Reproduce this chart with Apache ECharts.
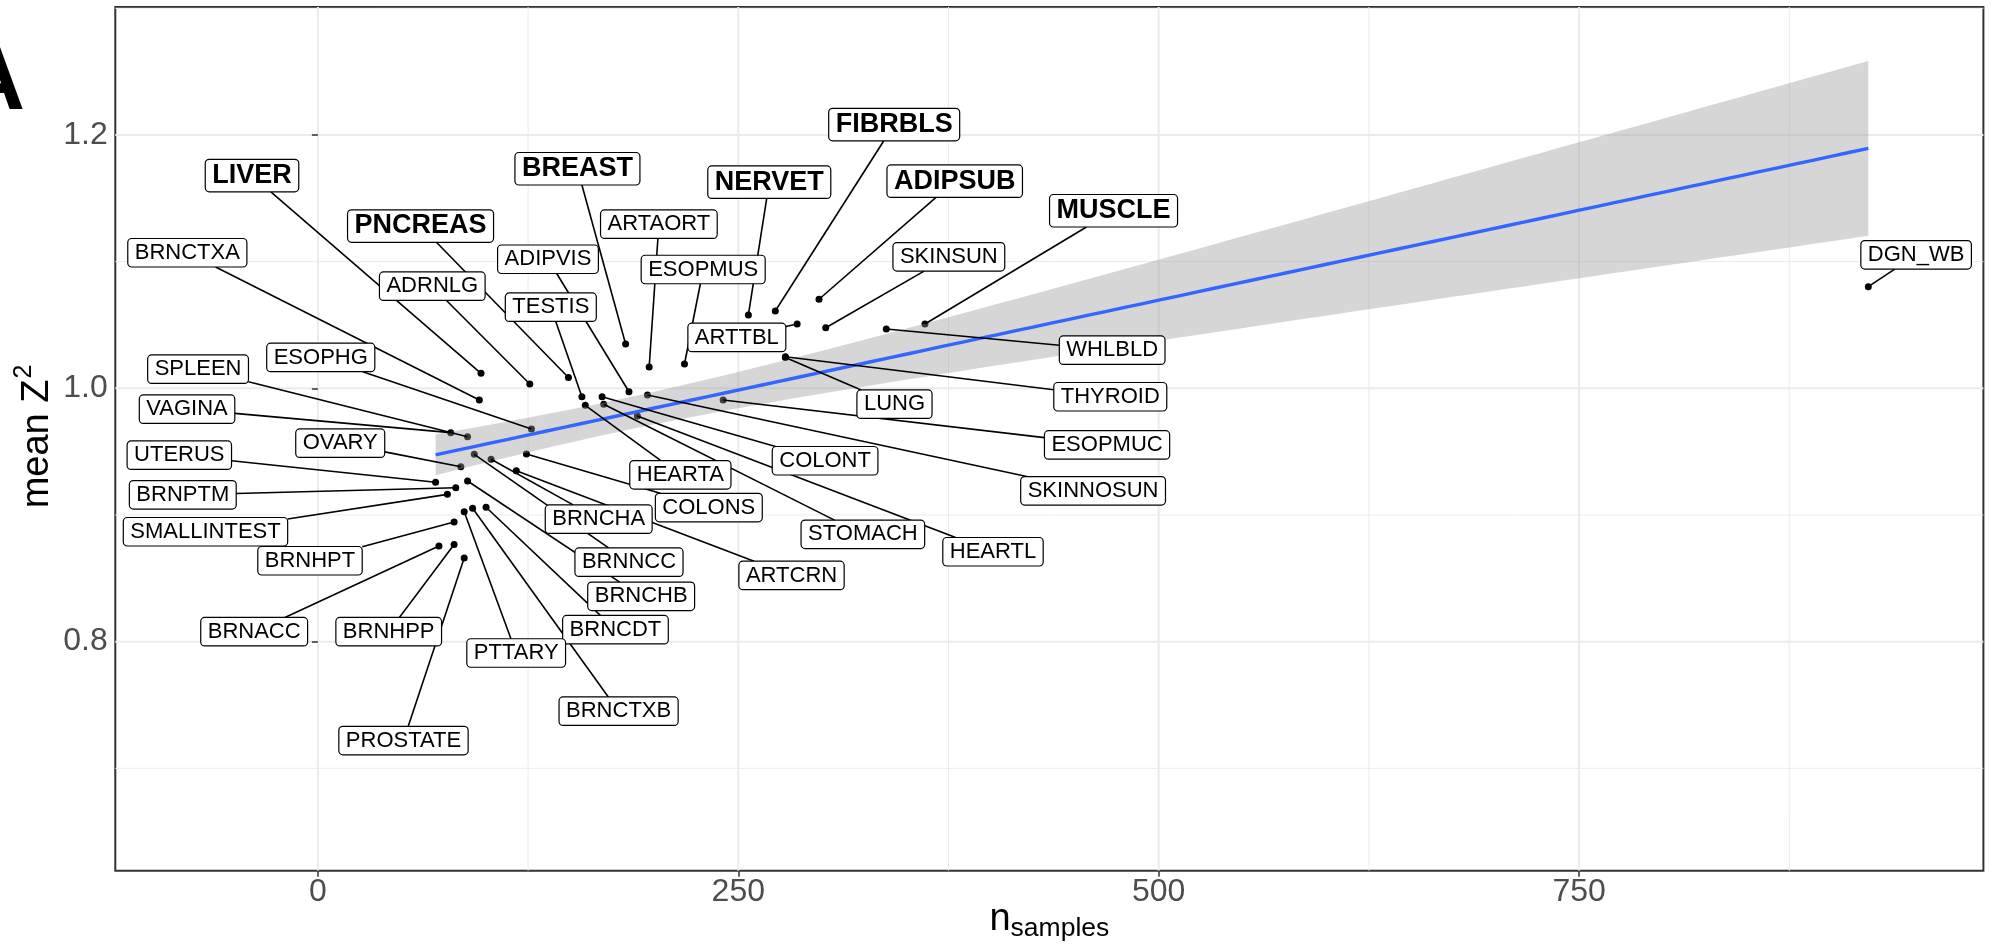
<!DOCTYPE html>
<html>
<head>
<meta charset="utf-8">
<script src="https://cdn.jsdelivr.net/npm/echarts@6.0.0/dist/echarts.min.js"></script>
<style>
html,body{margin:0;padding:0;background:#fff;}
#c{width:1993px;height:948px;}
</style>
</head>
<body>
<div id="c"></div>
<script>
// ---------------- DATA ----------------
const tissues = ['ADIPSUB','ADIPVIS','ADRNLG','ARTAORT','ARTCRN','ARTTBL','BREAST','BRNACC','BRNCDT','BRNCHA',
  'BRNCHB','BRNCTXA','BRNCTXB','BRNHPP','BRNHPT','BRNNCC','BRNPTM','COLONS','COLONT','DGN_WB',
  'ESOPHG','ESOPMUC','ESOPMUS','FIBRBLS','HEARTA','HEARTL','LIVER','LUNG','MUSCLE','NERVET',
  'OVARY','PNCREAS','PROSTATE','PTTARY','SKINNOSUN','SKINSUN','SMALLINTEST','SPLEEN','STOMACH','TESTIS',
  'THYROID','UTERUS','VAGINA','WHLBLD'];
const nSamples = [298,185,126,197,118,285,183,72,100,103,
  89,96,92,81,81,93,82,124,169,922,
  127,241,218,272,159,190,97,278,361,256,
  85,149,87,87,196,302,77,89,170,157,
  278,70,79,338];
const meanZ2 = [1.0703,0.9973,1.0034,1.0168,0.9350,1.0508,1.0350,0.8755,0.9061,0.9440,
  0.9268,0.9908,0.9053,0.8767,0.8945,0.9479,0.9215,0.9481,0.9934,1.0802,
  0.9679,0.9908,1.0192,1.0610,0.9866,0.9781,1.0118,1.0243,1.0508,1.0579,
  0.9381,1.0085,0.8660,0.9026,0.9947,1.0478,0.9163,0.9618,0.9874,0.9934,
  1.0249,0.9258,0.9650,1.0468];
const boldTissues = ['LIVER','PNCREAS','BREAST','NERVET','FIBRBLS','ADIPSUB','MUSCLE'];
const xTicks = [0,250,500,750];
const yTicks = [0.8,1.0,1.2];
const xMinor = [125,375,625,875];
const yMinor = [0.7,0.9,1.1,1.3];

// ---------------- LAYOUT (label offsets from point, px) ----------------
const labelOffset = {
  LIVER:[-229,-197.8], BRNCTXA:[-292,-147.2], ADRNLG:[-97.5,-97.8], PNCREAS:[-147.9,-151.5],
  TESTIS:[-31.1,-89.5], ADIPVIS:[-81,-132.5], BREAST:[-48.2,-175.2], ARTAORT:[9.7,-142.8],
  ESOPMUS:[18.7,-94.5], NERVET:[20.9,-132.8], FIBRBLS:[118.9,-186.5], ADIPSUB:[135.7,-118.1],
  ARTTBL:[-60.3,13.5], SKINSUN:[123.1,-70.9], MUSCLE:[188.6,-113.2], WHLBLD:[225.9,21.2],
  THYROID:[324.9,40], LUNG:[109.1,46.7], ESOPMUC:[383.9,45], SKINNOSUN:[445.6,95.8],
  COLONT:[223,64.1], HEARTA:[95.1,69.5], STOMACH:[259.1,130.1], HEARTL:[355.6,135.7],
  COLONS:[182.4,53.5], ARTCRN:[275.2,104.8], ESOPHG:[-210.7,-71.5], SPLEEN:[-269.5,-67.5],
  VAGINA:[-263.7,-23.5], OVARY:[-120.6,-23.5], UTERUS:[-256.3,-27.1], BRNPTM:[-273,7.1],
  SMALLINTEST:[-241.9,37.4], BRNHPT:[-144.1,38.8], BRNACC:[-184.8,85.7], BRNHPP:[-65.4,87.2],
  PROSTATE:[-60.7,182.5], PTTARY:[52,141.3], BRNCTXB:[146,202.9], BRNCDT:[129.4,122.4],
  BRNCHB:[173.6,115.3], BRNNCC:[154.7,107.9], BRNCHA:[107.6,59.9], DGN_WB:[47.8,-31.9]
};

const X_MIN = -120.48, X_MAX = 990.44, Y_MIN = 0.6192, Y_MAX = 1.3010;
const FONT = '"Liberation Sans", Arial, sans-serif';

// ---------------- linear fit (geom_smooth, method = lm) ----------------
const N = nSamples.length;
const xbar = nSamples.reduce((a,b)=>a+b,0)/N;
const ybar = meanZ2.reduce((a,b)=>a+b,0)/N;
let sxx = 0, sxy = 0;
for (let i=0;i<N;i++){ sxx += (nSamples[i]-xbar)**2; sxy += (nSamples[i]-xbar)*(meanZ2[i]-ybar); }
const slope = sxy/sxx, icpt = ybar - slope*xbar;
let sse = 0;
for (let i=0;i<N;i++){ const r = meanZ2[i]-(icpt+slope*nSamples[i]); sse += r*r; }
const sRes = Math.sqrt(sse/(N-2));
const T_CRIT = 2.0181; // qt(0.975, df = 42)
const xLo = Math.min(...nSamples), xHi = Math.max(...nSamples);
const fit = [];
for (let k=0;k<80;k++){
  const x = xLo + (xHi-xLo)*k/79;
  const yh = icpt + slope*x;
  const se = sRes*Math.sqrt(1/N + (x-xbar)**2/sxx);
  fit.push([x, yh, yh - T_CRIT*se, yh + T_CRIT*se]);
}

// ---------------- helpers ----------------
const mctx = document.createElement('canvas').getContext('2d');
function measure(t, font){ mctx.font = font; return mctx.measureText(t).width; }
const boldSet = new Set(boldTissues);
function labelGeom(api){
  const i = api.value(2);
  const name = tissues[i];
  const p = api.coord([api.value(0), api.value(1)]);
  const off = labelOffset[name] || [30,-30];
  const cx = p[0]+off[0], cy = p[1]+off[1];
  const bold = boldSet.has(name);
  const font = (bold ? 'bold 27px ' : '22px ') + FONT;
  const w = measure(name, font) + 14;
  const h = bold ? 32.5 : 28.5;
  return {name, p, cx, cy, w, h, font};
}

const pointData = tissues.map((t,i)=>[nSamples[i], meanZ2[i], i]);
const gridData = [
  ...xTicks.map(v=>[v,0,1]), ...xMinor.map(v=>[v,0,0]),
  ...yTicks.map(v=>[v,1,1]), ...yMinor.map(v=>[v,1,0])
];

const chart = echarts.init(document.getElementById('c'), null, {renderer:'canvas', width:1993, height:948});

// axis titles (graphic)
const fMain = 38, fSup = 25;
const wMean = measure('mean Z', fMain+'px '+FONT);
const wTwo = measure('2', fSup+'px '+FONT);
const yTitleStart = 437 + (wMean + wTwo)/2;
const yBase = 51;
const wN = measure('n', '38px '+FONT);
const wS = measure('samples', '26.5px '+FONT);
const xTitleLeft = 1049.35 - (wN + wS)/2;

const option = {
  animation: false,
  textStyle: {fontFamily: FONT},
  grid: {left:115.3, right:9.6, top:7, bottom:77.3, show:true, borderColor:'#333333', borderWidth:2,
         backgroundColor:'transparent', containLabel:false, outerBoundsMode:'none'},
  xAxis: {
    type:'value', min:X_MIN, max:X_MAX,
    axisLine:{show:false},
    splitLine:{show:false},
    axisTick:{show:true, customValues:xTicks, length:6, lineStyle:{color:'#333333', width:1.5}},
    axisLabel:{customValues:xTicks, formatter:(v)=>String(v), fontSize:32, color:'#4d4d4d', fontFamily:FONT, margin:5}
  },
  yAxis: {
    type:'value', min:Y_MIN, max:Y_MAX,
    axisLine:{show:false},
    splitLine:{show:false},
    axisTick:{show:true, customValues:yTicks, length:6, lineStyle:{color:'#333333', width:1.5}},
    axisLabel:{customValues:yTicks, formatter:(v)=>v.toFixed(1), fontSize:32, color:'#4d4d4d', fontFamily:FONT, margin:7.5}
  },
  graphic: [
    {type:'text', x:-40.7, y:115 - 0.3465*91, silent:true,
     style:{text:'A', font:'bold 91px '+FONT, fill:'#000', align:'left', verticalAlign:'middle'}},
    {type:'text', x:xTitleLeft, y:932.7 - 0.3465*38, silent:true,
     style:{text:'n', font:'38px '+FONT, fill:'#000', align:'left', verticalAlign:'middle'}},
    {type:'text', x:xTitleLeft + wN, y:938.3 - 0.3465*26.5, silent:true,
     style:{text:'samples', font:'26.5px '+FONT, fill:'#000', align:'left', verticalAlign:'middle'}},
    {type:'text', x:yBase - 0.3465*fMain, y:yTitleStart, rotation:Math.PI/2, silent:true,
     style:{text:'mean Z', font:fMain+'px '+FONT, fill:'#000', align:'left', verticalAlign:'middle'}},
    {type:'text', x:yBase - 18 - 0.3465*fSup, y:yTitleStart - wMean - 1, rotation:Math.PI/2, silent:true,
     style:{text:'2', font:fSup+'px '+FONT, fill:'#000', align:'left', verticalAlign:'middle'}}
  ],
  series: [
    { // grid lines
      type:'custom', z:0, silent:true, data:gridData, clip:false,
      renderItem:(params, api)=>{
        const v = api.value(0), isY = api.value(1), major = api.value(2);
        const cs = params.coordSys;
        let shape;
        if (!isY){ const px = api.coord([v, Y_MIN])[0]; shape = {x1:px, y1:cs.y, x2:px, y2:cs.y+cs.height}; }
        else { const py = api.coord([X_MIN, v])[1]; shape = {x1:cs.x, y1:py, x2:cs.x+cs.width, y2:py}; }
        return {type:'line', shape, style:{stroke:'#ebebeb', lineWidth: major ? 2 : 1}};
      }
    },
    { // points
      type:'scatter', z:1, silent:true, data:pointData, symbolSize:7,
      itemStyle:{color:'#000', opacity:1}
    },
    { // confidence ribbon
      type:'custom', z:2, silent:true, data:[fit[0]], clip:false,
      renderItem:(params, api)=>{
        const pts = [];
        for (const f of fit) pts.push(api.coord([f[0], f[3]]));
        for (let k=fit.length-1;k>=0;k--) pts.push(api.coord([fit[k][0], fit[k][2]]));
        return {type:'polygon', shape:{points:pts}, style:{fill:'#999999', opacity:0.4}};
      }
    },
    { // regression line
      type:'line', z:3, silent:true, data:fit.map(f=>[f[0], f[1]]), showSymbol:false, symbol:'none',
      lineStyle:{color:'#3366FF', width:3.4}
    },
    { // leader segments
      type:'custom', z:4, silent:true, data:pointData, clip:false,
      renderItem:(params, api)=>{
        const g = labelGeom(api);
        const dx = g.p[0]-g.cx, dy = g.p[1]-g.cy;
        const s = Math.min(dx !== 0 ? (g.w/2)/Math.abs(dx) : Infinity, dy !== 0 ? (g.h/2)/Math.abs(dy) : Infinity);
        if (s >= 1) return null;
        return {type:'line', shape:{x1:g.cx+dx*s, y1:g.cy+dy*s, x2:g.p[0], y2:g.p[1]},
                style:{stroke:'#000', lineWidth:1.6}};
      }
    },
    { // labels
      type:'custom', z:5, silent:true, data:pointData, clip:false,
      renderItem:(params, api)=>{
        const g = labelGeom(api);
        return {type:'group', children:[
          {type:'rect', shape:{x:g.cx-g.w/2, y:g.cy-g.h/2, width:g.w, height:g.h, r:4},
           style:{fill:'#fff', stroke:'#000', lineWidth:1.2}},
          {type:'text', x:g.cx, y:g.cy,
           style:{text:g.name, font:g.font, fill:'#000', align:'center', verticalAlign:'middle'}}
        ]};
      }
    }
  ]
};
chart.setOption(option);
</script>
</body>
</html>
